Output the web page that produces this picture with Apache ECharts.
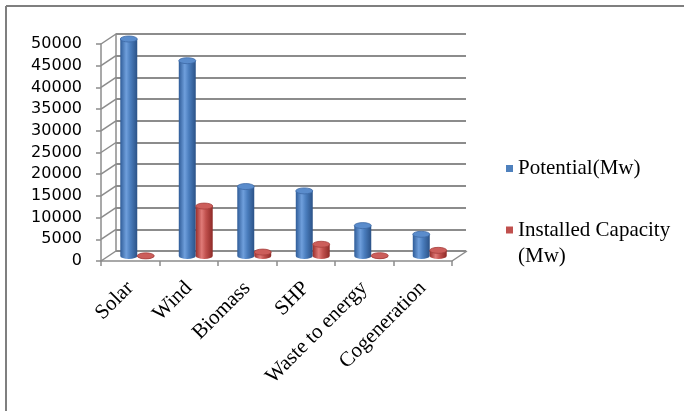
<!DOCTYPE html>
<html>
<head>
<meta charset="utf-8">
<script src="https://cdn.jsdelivr.net/npm/echarts@6/dist/echarts.min.js"></script>
<style>
  html, body { margin: 0; padding: 0; background: #fff; }
  #chart { width: 684px; height: 411px; }
</style>
</head>
<body>
<div id="chart"></div>
<script>
// Renewable energy sources: estimated potential vs. installed capacity (MW)
const categories = ['Solar', 'Wind', 'Biomass', 'SHP', 'Waste to energy', 'Cogeneration'];
const potential = [50000, 45000, 16000, 15000, 7000, 5000];
const installed = [30, 11500, 900, 2700, 70, 1300];
const seriesNames = ['Potential(Mw)', 'Installed Capacity (Mw)'];
const yTicks = [0, 5000, 10000, 15000, 20000, 25000, 30000, 35000, 40000, 45000, 50000];

const yMin = yTicks[0];
const yMax = yTicks[yTicks.length - 1];
const yStep = yTicks[1] - yTicks[0];

const GRAY = '#8c8c8c';
const DEPTH_X = 15, DEPTH_Y = -10;   // offset of the back wall from the front plane
const serif = '"Liberation Serif", "Times New Roman", serif';

const chart = echarts.init(document.getElementById('chart'), null, { renderer: 'canvas' });

// A cylinder drawn at category index / value, on the left (-1) or right (+1) half of the slot
function cylinder(side, pal) {
  return function (params, api) {
    const idx = api.value(0);
    const v = api.value(1);
    const top = api.coord([idx, v]);
    const base = api.coord([idx, 0]);
    const w = api.size([1, 0])[0] * 0.29;
    const rx = w / 2, ry = 3;
    const cx = top[0] + side * rx;
    const x0 = cx - rx, x1 = cx + rx;
    const yt = top[1], yb = base[1];
    const body = `M${x0} ${yt} L${x0} ${yb} A${rx} ${ry} 0 0 0 ${x1} ${yb} L${x1} ${yt} Z`;
    const cap = `M${x0} ${yt} A${rx} ${ry} 0 1 0 ${x1} ${yt} A${rx} ${ry} 0 1 0 ${x0} ${yt} Z`;
    return {
      type: 'group',
      children: [
        {
          type: 'path',
          shape: { pathData: body },
          style: {
            fill: new echarts.graphic.LinearGradient(0, 0, 1, 0, [
              { offset: 0, color: pal.edge },
              { offset: 0.35, color: pal.light },
              { offset: 0.6, color: pal.mid },
              { offset: 1, color: pal.dark }
            ])
          }
        },
        {
          type: 'path',
          shape: { pathData: cap },
          style: { fill: pal.cap, stroke: pal.rim, lineWidth: 0.8 }
        }
      ]
    };
  };
}

const bluePal = { edge: '#2f5c98', light: '#6f9fdc', mid: '#4a7dbd', dark: '#2b5287', cap: '#5a8ccc', rim: '#3d6aa6' };
const redPal = { edge: '#9a2f2c', light: '#e07b78', mid: '#c0504d', dark: '#8e2a27', cap: '#cc5e5b', rim: '#a63f3c' };

function valueAxis(gridIndex, extra) {
  return Object.assign({
    type: 'value', gridIndex, min: yMin, max: yMax, interval: yStep,
    axisLine: { show: false }, axisTick: { show: false },
    axisLabel: { show: false }, splitLine: { show: false }
  }, extra || {});
}

function categoryAxis(gridIndex, extra) {
  return Object.assign({
    type: 'category', gridIndex, data: categories,
    axisLine: { show: false }, axisTick: { show: false },
    axisLabel: { show: false }, splitLine: { show: false }
  }, extra || {});
}

const option = {
  backgroundColor: '#ffffff',
  animation: false,
  grid: [
    // back wall
    { left: 116, top: 34, width: 350, height: 217 },
    // front plane (axes and labels)
    { left: 101, top: 44, width: 351, height: 217 },
    // middle depth (cylinders)
    { left: 108, top: 39, width: 351, height: 217 }
  ],
  xAxis: [
    categoryAxis(0),
    categoryAxis(1, {
      axisLine: { show: true, lineStyle: { color: GRAY, width: 1.5 } },
      axisTick: { show: true, length: 5, lineStyle: { color: GRAY, width: 1.5 } },
      axisLabel: {
        show: true, interval: 0, rotate: 45, margin: 24,
        fontFamily: serif, fontSize: 21, color: '#000'
      }
    }),
    categoryAxis(2)
  ],
  yAxis: [
    valueAxis(0, {
      axisLine: { show: true, lineStyle: { color: GRAY, width: 1.5 } },
      splitLine: { show: true, lineStyle: { color: GRAY, width: 1.8 } }
    }),
    valueAxis(1, {
      axisLine: { show: true, lineStyle: { color: GRAY, width: 1.5 } },
      axisTick: { show: true, length: 5, lineStyle: { color: GRAY, width: 1.5 } },
      axisLabel: {
        show: true, margin: 19, fontFamily: '"DejaVu Sans", Verdana, sans-serif',
        fontSize: 16, color: '#000',
        formatter: v => String(v)
      }
    }),
    valueAxis(2)
  ],
  legend: [
    {
      data: [seriesNames[0]],
      orient: 'vertical', left: 506, top: 157, padding: 0,
      icon: 'rect', itemWidth: 7, itemHeight: 7, itemGap: 0,
      textStyle: { fontFamily: serif, fontSize: 21, color: '#000', lineHeight: 23 }
    },
    {
      data: [seriesNames[1]],
      orient: 'vertical', left: 506, top: 191, padding: 0,
      icon: 'rect', itemWidth: 7, itemHeight: 7, itemGap: 0,
      // leading blank line keeps the icon level with the first text line
      formatter: () => '\nInstalled Capacity\n(Mw)',
      textStyle: { fontFamily: serif, fontSize: 21, color: '#000', lineHeight: 26 }
    }
  ],
  graphic: [
    { type: 'line', shape: { x1: 6, y1: 6, x2: 684, y2: 6 }, style: { stroke: '#7f7f7f', lineWidth: 2 } },
    { type: 'line', shape: { x1: 6, y1: 6, x2: 6, y2: 411 }, style: { stroke: '#7f7f7f', lineWidth: 2 } }
  ],
  series: [
    {
      // side-wall connectors joining each front tick to its back gridline, plus the floor's right edge
      type: 'custom',
      xAxisIndex: 1, yAxisIndex: 1,
      silent: true, z: 1,
      data: yTicks.map(v => [0, v]),
      renderItem: function (params, api) {
        const cs = params.coordSys;
        const p = api.coord([0, api.value(1)]);
        const children = [{
          type: 'line',
          shape: { x1: cs.x, y1: p[1], x2: cs.x + DEPTH_X, y2: p[1] + DEPTH_Y },
          style: { stroke: GRAY, lineWidth: 1.5 }
        }];
        if (api.value(1) === yMin) {
          children.push({
            type: 'line',
            shape: { x1: cs.x + cs.width, y1: p[1], x2: cs.x + cs.width + DEPTH_X, y2: p[1] + DEPTH_Y },
            style: { stroke: GRAY, lineWidth: 1.5 }
          });
        }
        return { type: 'group', children };
      }
    },
    {
      name: seriesNames[0],
      type: 'custom',
      xAxisIndex: 2, yAxisIndex: 2, z: 3,
      itemStyle: { color: '#4f81bd' },
      data: potential.map((v, i) => [i, v]),
      encode: { x: 0, y: 1 },
      renderItem: cylinder(-1, bluePal)
    },
    {
      name: seriesNames[1],
      type: 'custom',
      xAxisIndex: 2, yAxisIndex: 2, z: 3,
      itemStyle: { color: '#c0504d' },
      data: installed.map((v, i) => [i, v]),
      encode: { x: 0, y: 1 },
      renderItem: cylinder(1, redPal)
    }
  ]
};

chart.setOption(option);
</script>
</body>
</html>
